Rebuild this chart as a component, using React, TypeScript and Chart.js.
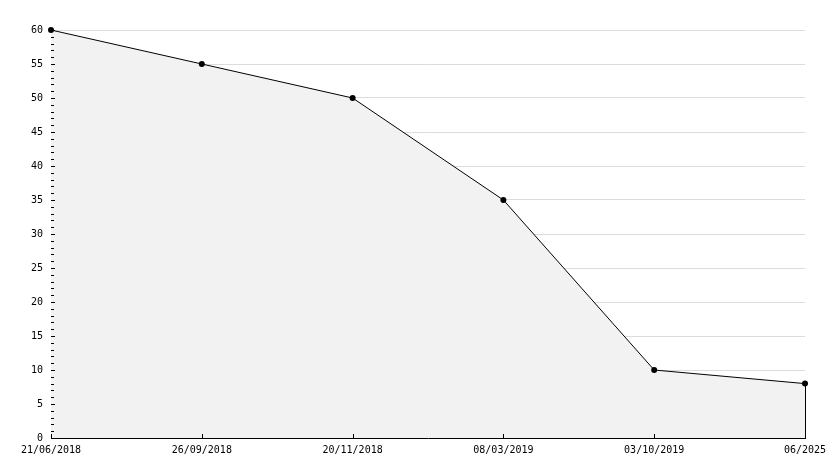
import React, { useEffect, useRef } from "react";
import { Chart, registerables } from "chart.js";

Chart.register(...registerables);

const categories = ["21/06/2018", "26/09/2018", "20/11/2018", "08/03/2019", "03/10/2019", "06/2025"];
const values = [60, 55, 50, 35, 10, 8];
const yMin = 0;
const yMax = 60;
const yStep = 5;

const FONT = "'DejaVu Sans Mono', monospace";

const tickPlugin = {
  id: "customTicks",
  afterDatasetsDraw(chart: any) {
    const ctx = chart.ctx;
    const y = chart.scales.y;
    const x = chart.scales.x;
    const area = chart.chartArea;
    ctx.save();
    ctx.strokeStyle = "#000";
    ctx.lineWidth = 1;
    ctx.beginPath();
    for (let v = yMin; v <= yMax; v += 1) {
      const py = Math.round(y.getPixelForValue(v)) + 0.5;
      const len = v % yStep === 0 ? 4 : 3;
      ctx.moveTo(area.left, py);
      ctx.lineTo(area.left + len, py);
    }
    for (let i = 0; i < categories.length; i++) {
      const px = Math.round(x.getPixelForValue(i)) + 0.5;
      ctx.moveTo(px, area.bottom);
      ctx.lineTo(px, area.bottom - 4);
    }
    // right edge of filled area
    const last = values.length - 1;
    const lx = Math.round(x.getPixelForValue(last)) + 0.5;
    ctx.moveTo(lx, y.getPixelForValue(values[last]));
    ctx.lineTo(lx, y.getPixelForValue(0));
    ctx.stroke();
    ctx.restore();
  },
};

export default function App() {
  const ref = useRef<HTMLCanvasElement | null>(null);
  useEffect(() => {
    document.body.style.margin = "0";
    const chart = new Chart(ref.current as HTMLCanvasElement, {
      type: "line",
      data: {
        labels: categories,
        datasets: [
          {
            data: values,
            borderColor: "#000",
            borderWidth: 1,
            backgroundColor: "#f2f2f2",
            fill: "origin",
            tension: 0,
            clip: false,
            pointRadius: 3,
            pointBackgroundColor: "#000",
            pointBorderColor: "#000",
            pointBorderWidth: 0,
            pointStyle: "circle",
          },
        ],
      },
      options: {
        animation: false,
        responsive: false,
        maintainAspectRatio: false,
        devicePixelRatio: 1,
        layout: { padding: { top: 30, right: 29, left: 0, bottom: 0 } },
        plugins: { legend: { display: false }, tooltip: { enabled: false } },
        scales: {
          x: {
            offset: false,
            grid: { display: false, drawTicks: false },
            border: { display: true, color: "#000", width: 1 },
            ticks: {
              color: "#000",
              font: { family: FONT, size: 10 },
              padding: 6,
              maxRotation: 0,
              autoSkip: false,
            },
            afterFit(scale: any) {
              scale.height = 30;
            },
          },
          y: {
            min: yMin,
            max: yMax,
            grid: {
              drawTicks: false,
              color: (c: any) => (c.tick && c.tick.value === 0 ? "rgba(0,0,0,0)" : "#dcdcdc"),
              lineWidth: 1,
            },
            border: { display: true, color: "#000", width: 1 },
            ticks: {
              stepSize: yStep,
              color: "#000",
              font: { family: FONT, size: 10 },
              padding: 8,
            },
            afterFit(scale: any) {
              scale.width = 51;
            },
          },
        },
      },
      plugins: [tickPlugin],
    });
    return () => chart.destroy();
  }, []);
  return (
    <div style={{ position: "absolute", left: 0, top: 0, width: 834, height: 468 }}>
      <canvas ref={ref} width={834} height={468} style={{ width: 834, height: 468 }} />
    </div>
  );
}
